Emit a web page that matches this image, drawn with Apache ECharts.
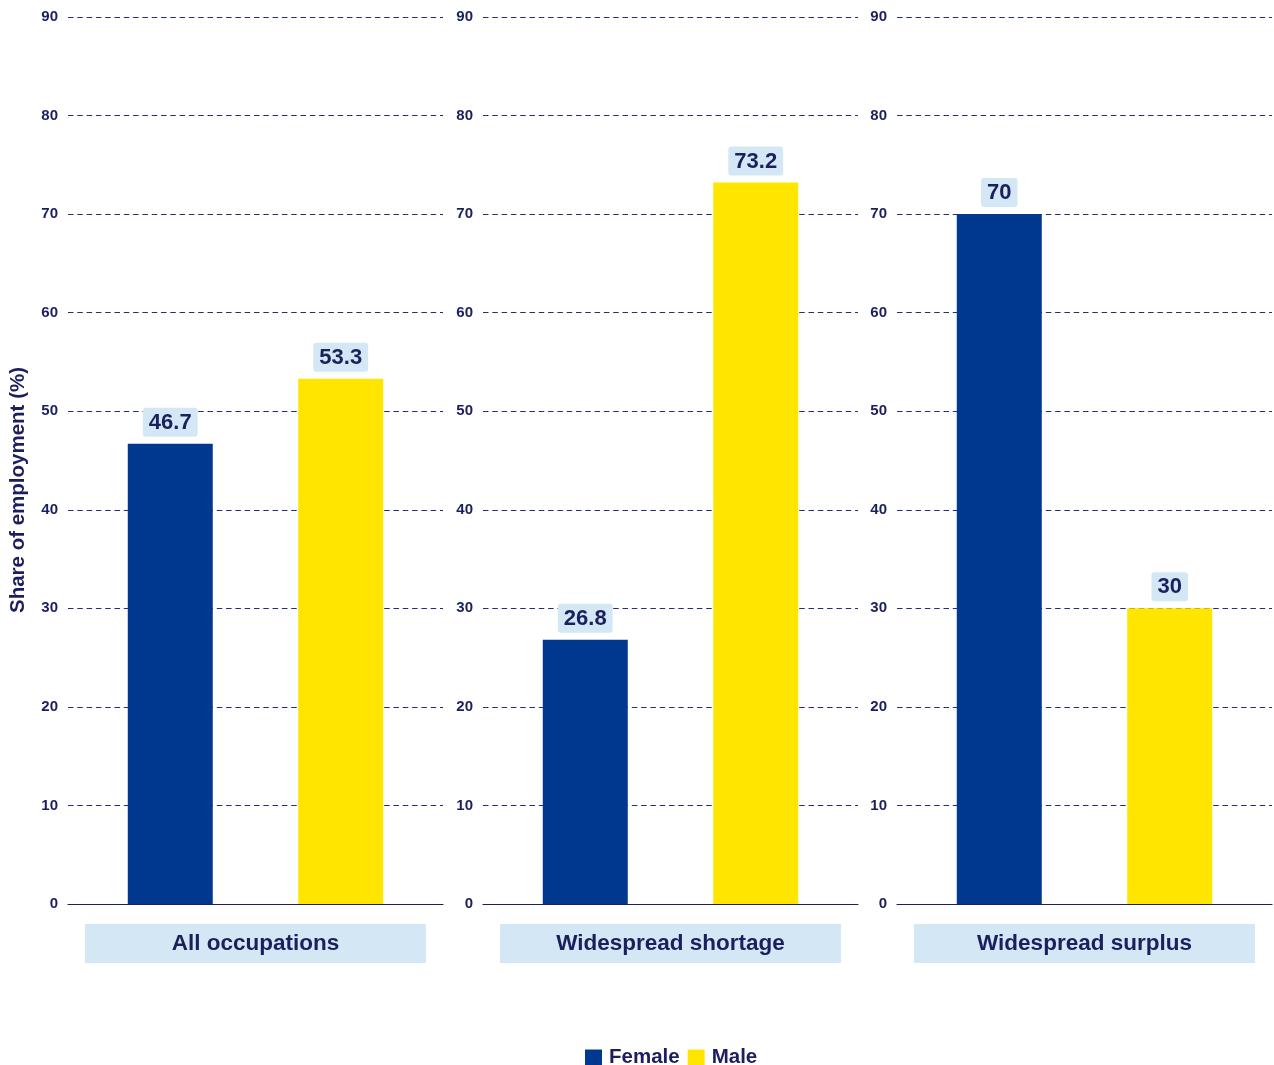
<!DOCTYPE html>
<html>
<head>
<meta charset="utf-8">
<script src="https://cdn.jsdelivr.net/npm/echarts@6/dist/echarts.min.js"></script>
<style>
  html, body { margin: 0; padding: 0; background: #ffffff; }
  #chart { width: 1274px; height: 1065px; }
</style>
</head>
<body>
<div id="chart"></div>
<script>
// Share of employment by sex, for each occupation group
const panels = ['All occupations', 'Widespread shortage', 'Widespread surplus'];
const female = [46.7, 26.8, 70];
const male = [53.3, 73.2, 30];
const seriesNames = ['Female', 'Male'];
const yTicks = { min: 0, max: 90, step: 10 };

const NAVY = '#1b1f5e';
const FONT = "'Liberation Sans', Arial, Helvetica, sans-serif";
const COLORS = ['#00388f', '#ffe500'];
const STRIP = '#d3e7f5';

// panel geometry
const panelLeft = [68, 483, 897];
const panelWidth = 375;
const gridTop = 17;
const gridBottom = 161;

const grids = [], xAxes = [], yAxes = [], series = [], graphics = [];

panels.forEach((name, i) => {
  grids.push({ left: panelLeft[i], width: panelWidth, top: gridTop, bottom: gridBottom });
  xAxes.push({
    type: 'value', gridIndex: i, min: 0.4, max: 2.6,
    axisLine: { show: true, onZero: false, lineStyle: { color: NAVY, width: 1.2 } },
    axisTick: { show: false }, axisLabel: { show: false }, splitLine: { show: false }
  });
  yAxes.push({
    type: 'value', gridIndex: i, min: yTicks.min, max: yTicks.max, interval: yTicks.step,
    axisLine: { show: false }, axisTick: { show: false },
    axisLabel: { color: NAVY, fontFamily: FONT, fontWeight: 'bold', fontSize: 15, margin: 10 },
    splitLine: { show: true, lineStyle: { color: '#262d78', width: 1.1, type: [5.5, 3.8] } }
  });
  [female, male].forEach((vals, s) => {
    series.push({
      name: seriesNames[s], type: 'bar', xAxisIndex: i, yAxisIndex: i,
      barWidth: 85, barGap: '-100%',
      itemStyle: { color: COLORS[s] },
      data: [[s + 1, vals[i]]],
      label: {
        show: true, position: 'top', distance: 7,
        formatter: p => String(p.value[1]),
        color: NAVY, fontFamily: FONT, fontWeight: 'bold', fontSize: 22,
        backgroundColor: STRIP, borderRadius: 3, padding: [4, 6, 3, 6]
      }
    });
  });
  // facet strip under each panel
  graphics.push({
    type: 'group', left: panelLeft[i] + 17, top: 924,
    children: [
      { type: 'rect', shape: { x: 0, y: 0, width: 341, height: 39 }, style: { fill: STRIP } },
      { type: 'text', x: 170.5, y: 19.5,
        style: { text: name, fill: NAVY, font: `bold 22.5px ${FONT}`, align: 'center', verticalAlign: 'middle' } }
    ]
  });
});

// y axis title
graphics.push({
  type: 'text', x: 18, y: 490, rotation: Math.PI / 2,
  style: { text: 'Share of employment (%)', fill: NAVY, font: `bold 20.5px ${FONT}`, align: 'center', verticalAlign: 'middle' }
});

const chart = echarts.init(document.getElementById('chart'), null, { renderer: 'canvas' });
chart.setOption({
  backgroundColor: '#ffffff',
  animation: false,
  grid: grids,
  xAxis: xAxes,
  yAxis: yAxes,
  legend: {
    data: seriesNames, left: 585, top: 1047, icon: 'rect', padding: 0,
    itemWidth: 17, itemHeight: 16, itemGap: 8,
    textStyle: { color: NAVY, fontFamily: FONT, fontWeight: 'bold', fontSize: 20.5, padding: [0, 0, 0, 2] }
  },
  series: series,
  graphic: graphics
});
</script>
</body>
</html>
